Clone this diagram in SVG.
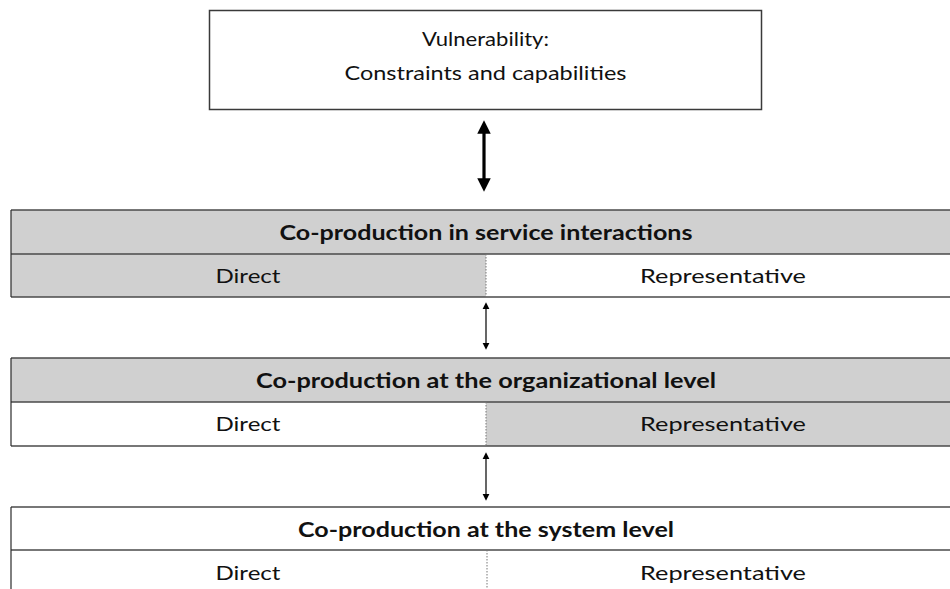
<svg xmlns="http://www.w3.org/2000/svg" width="950" height="589" viewBox="0 0 950 589">
  <style>
    .frame { fill: #ffffff; stroke: #3a3a3a; stroke-width: 1.5; }
    .grey { fill: #d0d0d0; }
    .white { fill: #ffffff; }
    .rule { stroke: #4a4a4a; stroke-width: 1.6; fill: none; }
    .edge { stroke: #2a2a2a; stroke-width: 1.2; fill: none; }
    .split { stroke: #777777; stroke-width: 1; stroke-dasharray: 1.5 1.5; fill: none; }
    .txt { font-family: Lato, "Liberation Sans", sans-serif; font-size: 20px; fill: #111111; text-anchor: middle; }
    .head { font-weight: bold; }
    .big { stroke: #000000; stroke-width: 3.2; fill: none; }
    .small { stroke: #000000; stroke-width: 1.2; fill: none; }
  </style>
  <defs>
    <marker id="bigHead" viewBox="0 0 10 10" refX="2" refY="5" markerWidth="4.2" markerHeight="4.2" orient="auto-start-reverse" markerUnits="strokeWidth">
      <path d="M0,0 L10,5 L0,10 z" fill="#000000"/>
    </marker>
    <marker id="smallHead" viewBox="0 0 10 10" refX="2" refY="5" markerWidth="6" markerHeight="6" orient="auto-start-reverse" markerUnits="strokeWidth">
      <path d="M0,0 L10,5 L0,10 z" fill="#000000"/>
    </marker>
  </defs>

  <rect width="950" height="589" fill="#ffffff"/>

  <!-- Vulnerability box -->
  <g id="vulnerability">
    <rect class="frame" x="209.5" y="10.5" width="552" height="99"/>
    <text class="txt" x="485.5" y="46" textLength="127" lengthAdjust="spacingAndGlyphs">Vulnerability:</text>
    <text class="txt" x="485.5" y="80" textLength="282" lengthAdjust="spacingAndGlyphs">Constraints and capabilities</text>
  </g>

  <!-- Level 1: service interactions -->
  <g id="service-interactions">
    <rect class="grey" x="11" y="210" width="950" height="44"/>
    <rect class="grey" x="11" y="254" width="475" height="43"/>
    <rect class="white" x="486" y="254" width="475" height="43"/>
    <line class="rule" x1="11" y1="210" x2="950" y2="210"/>
    <line class="rule" x1="11" y1="254" x2="950" y2="254"/>
    <line class="rule" x1="11" y1="297" x2="950" y2="297"/>
    <line class="edge" x1="11" y1="210" x2="11" y2="297"/>
    <line class="split" x1="486" y1="254" x2="486" y2="297"/>
    <text class="txt head" x="486" y="240" textLength="413" lengthAdjust="spacingAndGlyphs">Co-production in service interactions</text>
    <text class="txt" x="248" y="283" textLength="65" lengthAdjust="spacingAndGlyphs">Direct</text>
    <text class="txt" x="723" y="283" textLength="166" lengthAdjust="spacingAndGlyphs">Representative</text>
  </g>

  <!-- Level 2: organizational -->
  <g id="organizational-level">
    <rect class="grey" x="11" y="358" width="950" height="44"/>
    <rect class="white" x="11" y="402" width="475" height="44"/>
    <rect class="grey" x="486" y="402" width="475" height="44"/>
    <line class="rule" x1="11" y1="358" x2="950" y2="358"/>
    <line class="rule" x1="11" y1="402" x2="950" y2="402"/>
    <line class="rule" x1="11" y1="446" x2="950" y2="446"/>
    <line class="edge" x1="11" y1="358" x2="11" y2="446"/>
    <line class="split" x1="486" y1="402" x2="486" y2="446"/>
    <text class="txt head" x="486" y="388" textLength="460" lengthAdjust="spacingAndGlyphs">Co-production at the organizational level</text>
    <text class="txt" x="248" y="431" textLength="65" lengthAdjust="spacingAndGlyphs">Direct</text>
    <text class="txt" x="723" y="431" textLength="166" lengthAdjust="spacingAndGlyphs">Representative</text>
  </g>

  <!-- Level 3: system -->
  <g id="system-level">
    <rect class="white" x="11" y="507" width="950" height="90"/>
    <line class="rule" x1="11" y1="507" x2="950" y2="507"/>
    <line class="rule" x1="11" y1="550" x2="950" y2="550"/>
    <line class="edge" x1="11" y1="507" x2="11" y2="589"/>
    <line class="split" x1="487" y1="550" x2="487" y2="589"/>
    <text class="txt head" x="486" y="537" textLength="376" lengthAdjust="spacingAndGlyphs">Co-production at the system level</text>
    <text class="txt" x="248" y="580" textLength="65" lengthAdjust="spacingAndGlyphs">Direct</text>
    <text class="txt" x="723" y="580" textLength="166" lengthAdjust="spacingAndGlyphs">Representative</text>
  </g>

  <!-- Connectors -->
  <g id="connectors">
    <line class="big" x1="484" y1="131" x2="484" y2="181" marker-start="url(#bigHead)" marker-end="url(#bigHead)"/>
    <line class="small" x1="486" y1="308" x2="486" y2="344" marker-start="url(#smallHead)" marker-end="url(#smallHead)"/>
    <line class="small" x1="486" y1="458" x2="486" y2="495" marker-start="url(#smallHead)" marker-end="url(#smallHead)"/>
  </g>
</svg>
